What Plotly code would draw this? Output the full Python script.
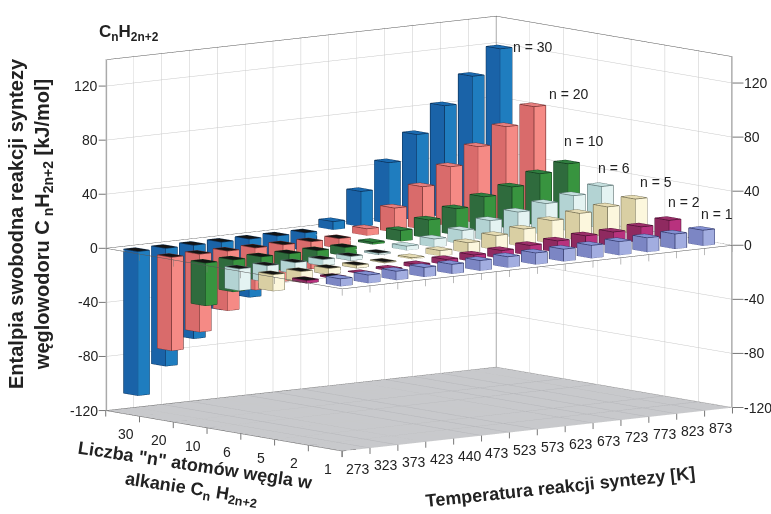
import numpy as np
import plotly.graph_objects as go

temperatures = [273, 323, 373, 423, 440, 473, 523, 573, 623, 673, 723, 773, 823, 873]
carbon_counts = [1, 2, 5, 6, 10, 20, 30]
dg_n1 = [5.5, 6, 6.5, 7, 7, 7.5, 8, 8.5, 9, 9.5, 10, 10.5, 11, 11.5]
dg_n2 = [-2, -1, 0.5, 1.5, 2.5, 4, 5, 6, 7.5, 8.5, 10, 10.5, 12, 14.5]
dg_n5 = [-12, -8, -4.5, -2, -0.5, 1, 4, 7.5, 10.5, 13, 17, 20, 22.5, 26]
dg_n6 = [-16, -12, -8, -4.5, -3, -1, 3, 6, 10, 15, 19, 23, 26.5, 31]
dg_n10 = [-31.5, -23.5, -17.5, -13, -9.5, -6, 1.5, 8, 13.5, 19.5, 26, 31, 38.5, 43.5]
dg_n20 = [-69, -57.5, -44, -31, -27, -20, -7, 5, 18, 31.5, 44, 56.5, 69, 81.5]
dg_n30 = [-106.5, -87, -69, -50, -43, -32, -13, 6, 26, 45, 63.5, 82.5, 102, 120]
series = [dg_n1, dg_n2, dg_n5, dg_n6, dg_n10, dg_n20, dg_n30]
z_ticks = [-120, -80, -40, 0, 40, 80, 120]

# (x-facing face, y-facing face, top, edge)
palette = [
    ("#7c86c4", "#a2ade0", "#8390d2", "#2f3566"),
    ("#8f2a60", "#b8327e", "#9b2f6a", "#4a1030"),
    ("#d9cfa3", "#fcf7dd", "#e6dcb4", "#6f6a50"),
    ("#b3d3d3", "#e4f3f2", "#c6e0df", "#5a7070"),
    ("#2f6b3d", "#38943f", "#2f7e3f", "#123a1c"),
    ("#d96b6b", "#f58a85", "#e67f7f", "#6e2f2f"),
    ("#1a63a8", "#1f7dbf", "#1a6ab0", "#0a2f55"),
]
label_dx = [-9, -8, -2, -10, -11, 8, 6]
label_dy = [10, 13, 11, 13, 17, 7, -4]
BAR = 0.42
ZMIN, ZMAX = -120, 140
NX, NY = len(temperatures), len(carbon_counts)

fig = go.Figure()

def bar_traces(values, j, cols):
    xs, ys, zs, I, J, K, fc = [], [], [], [], [], [], []
    lx, ly, lz = [], [], []
    for i, v in enumerate(values):
        x0, x1 = i + .5 - BAR / 2, i + .5 + BAR / 2
        y0, y1 = j + .5 - BAR / 2, j + .5 + BAR / 2
        lo, hi = min(0, v), max(0, v)
        b = len(xs)
        for zz in (lo, hi):
            for (a, c) in ((x0, y0), (x1, y0), (x1, y1), (x0, y1)):
                xs.append(a); ys.append(c); zs.append(zz)
        top = "#141414" if v < 0 else cols[2]
        faces = [((0, 3, 7), cols[0]), ((0, 7, 4), cols[0]),
                 ((0, 1, 5), cols[1]), ((0, 5, 4), cols[1]),
                 ((4, 5, 6), top), ((4, 6, 7), top)]
        for (p, q, r), c in faces:
            I.append(b + p); J.append(b + q); K.append(b + r); fc.append(c)
        for path in ((0, 1, 2, 3, 0), (4, 5, 6, 7, 4), (0, 4), (1, 5), (3, 7)):
            for p in path:
                lx.append(xs[b + p]); ly.append(ys[b + p]); lz.append(zs[b + p])
            lx.append(None); ly.append(None); lz.append(None)
    fig.add_trace(go.Mesh3d(x=xs, y=ys, z=zs, i=I, j=J, k=K, facecolor=fc, flatshading=True,
                            lighting=dict(ambient=1, diffuse=0, specular=0, fresnel=0, roughness=1),
                            hoverinfo="skip", showscale=False))
    fig.add_trace(go.Scatter3d(x=lx, y=ly, z=lz, mode="lines", line=dict(color=cols[3], width=1.5),
                               hoverinfo="skip", showlegend=False))

def lines(segments, color, width):
    x, y, z = [], [], []
    for seg in segments:
        for p in seg:
            x.append(p[0]); y.append(p[1]); z.append(p[2])
        x.append(None); y.append(None); z.append(None)
    fig.add_trace(go.Scatter3d(x=x, y=y, z=z, mode="lines", line=dict(color=color, width=width),
                               hoverinfo="skip", showlegend=False))

# camera / projection
theta, phi = np.radians(38.9), np.radians(7.95)
ZOOM = 1.381
ax, ay, az = ZOOM * 501 / 354.5, ZOOM * 376 / 354.5, ZOOM
direction = np.array([-np.sin(theta) * np.cos(phi), -np.cos(theta) * np.cos(phi), np.sin(phi)])
right = np.array([np.cos(theta), -np.sin(theta), 0])
up = np.array([np.sin(phi) * np.sin(theta), np.sin(phi) * np.cos(theta), np.cos(phi)])
EYE_DIST = 3.0
center = -(34 / 260) * right - (24 / 260) * up
eye = center + direction * EYE_DIST

# White zero plane: opaque except where a hanging (negative) bar is seen through it.
SX, SY, RX, RY, SZ = 390 / NX, 236 / NY, 43.5 / NX, 40.5 / NY, 1.35
def sxy(px, py):
    return SX * px - SY * py, -(RX * px + RY * py)
holes = []
half = BAR / 2 * (SX + SY) + 1.0
for j, vals in enumerate(series):
    for i, v in enumerate(vals):
        if v < 0:
            cx, cy = sxy(i + .5, j + .5)
            holes.append((cx - half, cx + half, cy - 3, cy + 3 + abs(v) * SZ))
STEP = 0.1
pv_x, pv_y, pi_, pj_, pk_ = [], [], [], [], []
for a in np.arange(0, NX - 1e-9, STEP):
    for b in np.arange(0, NY - 1e-9, STEP):
        cx, cy = sxy(a + STEP / 2, b + STEP / 2)
        if any(h[0] <= cx <= h[1] and h[2] <= cy <= h[3] for h in holes):
            continue
        n0 = len(pv_x)
        pv_x += [a, a + STEP, a + STEP, a]
        pv_y += [b, b, b + STEP, b + STEP]
        pi_ += [n0, n0]; pj_ += [n0 + 1, n0 + 2]; pk_ += [n0 + 2, n0 + 3]
fig.add_trace(go.Mesh3d(x=pv_x, y=pv_y, z=[-0.1] * len(pv_x), i=pi_, j=pj_, k=pk_, color="white", flatshading=True,
                        lighting=dict(ambient=1, diffuse=0, specular=0, fresnel=0),
                        hoverinfo="skip", showscale=False))

for j, vals in enumerate(series):
    bar_traces(vals, j, palette[j])

# zero plane outline and its ticks
lines([[(0, NY, 0), (NX, NY, 0), (NX, 0, 0), (0, 0, 0), (0, NY, 0)]], "#555555", 1)
lines([[(i, 0, 0), (i, 0, -5)] for i in range(NX + 1)] + [[(0, j, 0), (0, j, -5)] for j in range(NY + 1)],
      "#777777", 1)
# floor grid
lines([[(i, 0, ZMIN), (i, NY, ZMIN)] for i in range(1, NX)] + [[(0, j, ZMIN), (NX, j, ZMIN)] for j in range(1, NY)],
      "#b2b3b7", 1)
# frame, set a hair inside the box so the walls do not swallow it
YB, XB, ZT = NY - 0.015, NX - 0.015, ZMAX - 0.4
lines([[(0.01, YB, ZT), (XB, YB, ZT), (XB, 0.01, ZT)],
       [(XB, YB, ZMIN), (XB, YB, ZT)],
       [(0, NY, ZMIN), (0, 0, ZMIN), (NX, 0, ZMIN), (NX, NY, ZMIN), (0, NY, ZMIN)]], "#555555", 1)
lines([[(0.01, YB, ZMIN), (0.01, YB, ZT)], [(XB, 0.01, ZMIN), (XB, 0.01, ZT)]], "#aaaaaa", 2.5)

annots = []
TF = dict(family="Liberation Sans", size=14, color="#222222")
def tick_label(x, y, z, text, ax_, ay_, xanchor="center", yanchor="middle", font=TF):
    annots.append(dict(x=x, y=y, z=z, text=text, showarrow=True, arrowhead=0, arrowwidth=1, arrowcolor="#777777",
                       ax=ax_, ay=ay_, standoff=0, xanchor=xanchor, yanchor=yanchor, font=font, borderpad=0))

TINY = dict(family="Liberation Sans", size=1, color="#ffffff")
for val in z_ticks:
    tick_label(0, NY, val, str(val), -7, 0, xanchor="right")
    tick_label(NX, 0, val, str(val), 11, 0, xanchor="left")
for i in range(NX + 1):
    tick_label(i, 0, ZMIN, "\u00a0", 0, 7, font=TINY)
for j in range(NY + 1):
    tick_label(0, j, ZMIN, "\u00a0", 0, 7, font=TINY)
for i, t in enumerate(temperatures):
    annots.append(dict(x=i + .5, y=0, z=ZMIN, text=str(t), showarrow=False, yshift=-19, xshift=2, font=TF))
for j, n in enumerate(carbon_counts):
    annots.append(dict(x=0, y=j + .5, z=ZMIN, text=str(n), showarrow=False, yshift=-21, xshift=3, font=TF))
for j, n in enumerate(carbon_counts):
    annots.append(dict(x=NX - .5, y=j + .5, z=series[j][-1], text=f"n = {n}", showarrow=False,
                       xanchor="left", yanchor="bottom", xshift=6 + label_dx[j], yshift=-6 + label_dy[j],
                       font=dict(family="Liberation Sans", size=14, color="#222222")))

grid = dict(showgrid=True, gridcolor="#c8c8c8", gridwidth=1, showticklabels=False, ticks="",
            showline=False, zeroline=False, showspikes=False, title=dict(text=""),
            showbackground=True, backgroundcolor="white")
xaxis = dict(grid, range=[0, NX], tickmode="array", tickvals=list(range(NX + 1)))
yaxis = dict(grid, range=[0, NY], tickmode="array", tickvals=list(range(NY + 1)))
zaxis = dict(grid, range=[ZMIN, ZMAX], tickmode="array", tickvals=z_ticks, backgroundcolor="#c8c9cc")

fig.update_layout(
    width=771, height=514, margin=dict(l=0, r=0, t=0, b=0), paper_bgcolor="white", showlegend=False,
    scene=dict(xaxis=xaxis, yaxis=yaxis, zaxis=zaxis, annotations=annots,
               domain=dict(x=[0, 1], y=[0, 1]),
               aspectmode="manual", aspectratio=dict(x=ax, y=ay, z=az),
               camera=dict(projection=dict(type="orthographic"),
                           eye=dict(x=eye[0], y=eye[1], z=eye[2]),
                           center=dict(x=center[0], y=center[1], z=center[2]),
                           up=dict(x=0, y=0, z=1))),
    annotations=[
        dict(xref="paper", yref="paper", x=97 / 771, y=1 - 33 / 514, showarrow=False, xanchor="left", yanchor="middle",
             text="<b>C<sub>n</sub>H<sub>2n+2</sub></b>", font=dict(family="Liberation Sans", size=17, color="#222222")),
        dict(xref="paper", yref="paper", x=30 / 771, y=1 - 224 / 514, showarrow=False, textangle=-90,
             xanchor="center", yanchor="middle",
             text="<b>Entalpia swobodna reakcji syntezy<br>węglowodoru C<sub> n</sub>H<sub>2n+2</sub> [kJ/mol]</b>",
             font=dict(family="Liberation Sans", size=20, color="#222222")),
        dict(xref="paper", yref="paper", x=193 / 771, y=1 - 478 / 514, showarrow=False, textangle=8.6,
             xanchor="center", yanchor="middle",
             text="<b>Liczba \"n\" atomów węgla w<br>alkanie C<sub>n</sub> H<sub>2n+2</sub></b>",
             font=dict(family="Liberation Sans", size=18, color="#222222")),
        dict(xref="paper", yref="paper", x=560 / 771, y=1 - 487 / 514, showarrow=False, textangle=-6,
             xanchor="center", yanchor="middle",
             text="<b>Temperatura reakcji syntezy [K]</b>",
             font=dict(family="Liberation Sans", size=18, color="#222222")),
    ],
)
fig.write_html("out.html", config=dict(displayModeBar=False),
               post_script="document.body.style.margin='0';document.body.style.overflow='hidden';")
